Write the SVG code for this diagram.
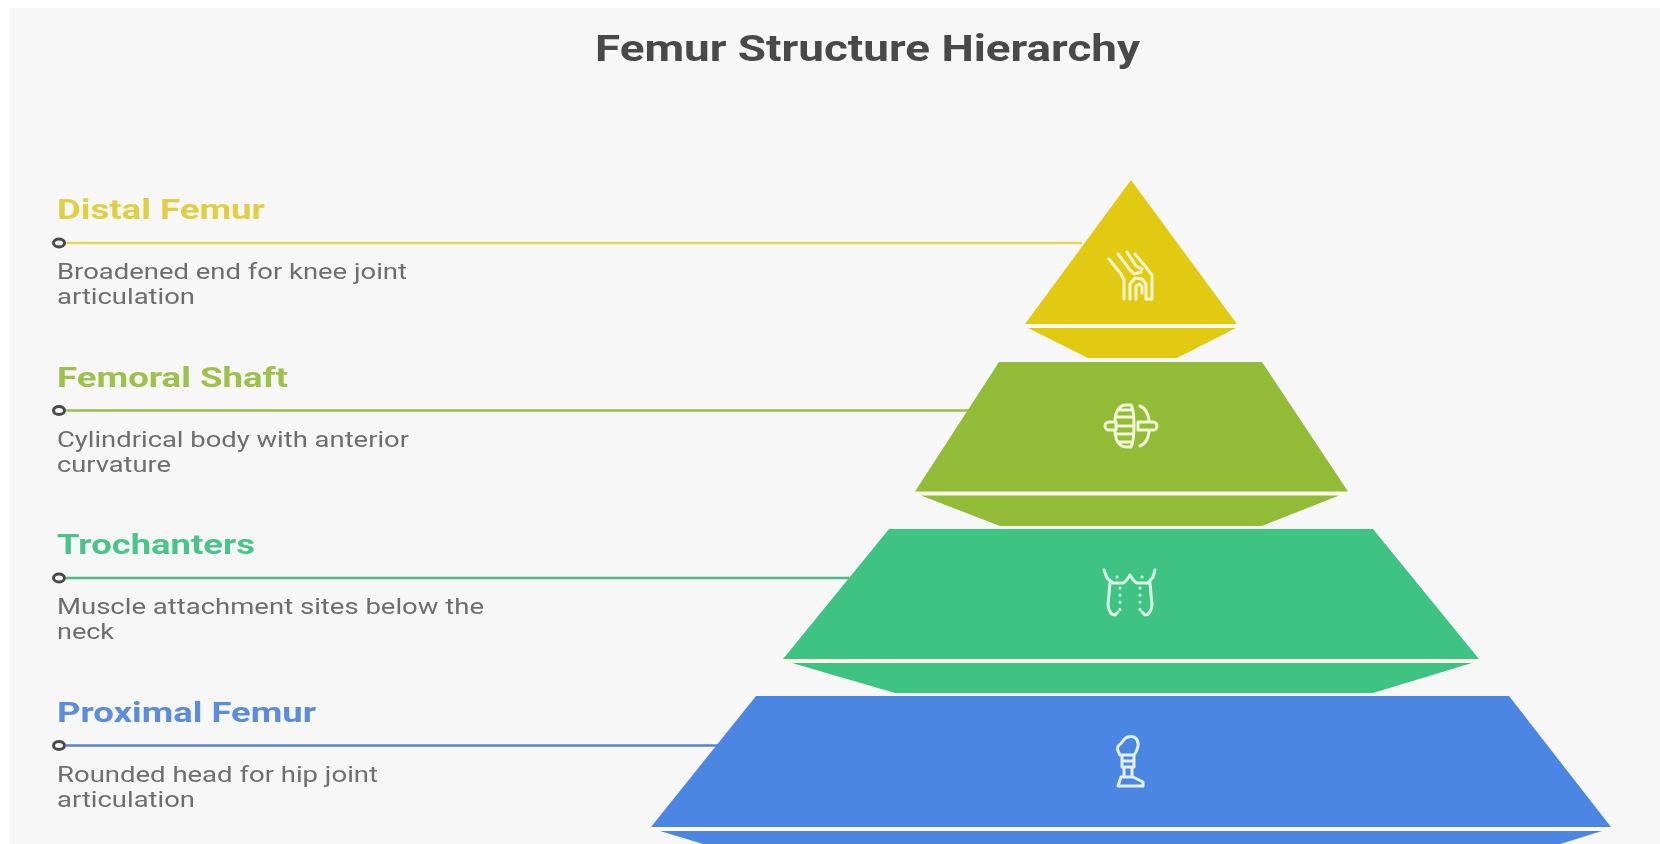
<svg xmlns="http://www.w3.org/2000/svg" width="1660" height="844" viewBox="0 0 1660 844">
<defs>
<filter id="soft" x="-10%" y="-30%" width="120%" height="160%"><feGaussianBlur stdDeviation="0.5"/></filter>
</defs>
<style>
.title{font:700 37px Roboto,"Liberation Sans",sans-serif;fill:#4a4a4a}
.head{font:700 28px Roboto,"Liberation Sans",sans-serif}
.desc{font:400 22px Roboto,"Liberation Sans",sans-serif;fill:#6e6e6e}
.dot{fill:#f7f7f7;stroke:#4a4a4a;stroke-width:3}
.ic{fill:none;stroke:#fbf6cf;stroke-width:3;stroke-linecap:round;stroke-linejoin:round}
.sep{stroke:#fdfde0;stroke-width:2.500}
</style>
<rect width="1660" height="844" fill="#fff"/>
<rect x="9" y="8" width="1651" height="836" fill="#f7f7f7"/>
<text class="title" x="595" y="61" textLength="545" lengthAdjust="spacingAndGlyphs" filter="url(#soft)">Femur Structure Hierarchy</text>
<g id="connectors" fill="none" stroke-width="2.500">
<path d="M66 243H1082" stroke="#e6d655"/>
<path d="M66 410.500H969" stroke="#9bbf4a"/>
<path d="M66 578H849" stroke="#4fb98a"/>
<path d="M66 745.500H717" stroke="#5b82c4"/>
</g>
<g id="distal-femur">
<polygon points="1131,180 1237,324 1025,324" fill="#e2ca12"/>
<polygon points="1028,328 1236,328 1177,358 1088,358" fill="#e2ca12"/>
<path class="sep" d="M1025 326.500H1237"/>
<path class="ic" filter="url(#soft)" transform="translate(0 2)" d="M1109 257L1121 272L1124 278V297M1118 252L1130 268L1134 272L1141 270M1127 250L1136 264L1142 267M1135 252L1145 264L1152 273V297H1146M1130 297V282L1135 276L1142 277L1146 282V297M1136 297V284L1140 282L1142 285V291"/>
<ellipse class="dot" cx="59" cy="243" rx="5.500" ry="4"/>
<text class="head" x="57" y="219" textLength="208" lengthAdjust="spacingAndGlyphs" fill="#e0cf45" filter="url(#soft)">Distal Femur</text>
<text class="desc" x="57" y="279" textLength="350" lengthAdjust="spacingAndGlyphs" filter="url(#soft)">Broadened end for knee joint</text>
<text class="desc" x="57" y="304" textLength="138" lengthAdjust="spacingAndGlyphs" filter="url(#soft)">articulation</text>
</g>
<g id="femoral-shaft">
<polygon points="999,362 1262,362 1348,491.500 915,491.500" fill="#92bb38"/>
<polygon points="921,495.500 1339,495.500 1262,526 1000,526" fill="#92bb38"/>
<path class="sep" d="M915 493.500H1348"/>
<path class="ic" filter="url(#soft)" style="stroke:#f2f8d8" d="M1105 426a4 4 0 0 1 4-4h7v8h-7a4 4 0 0 1-4-4zM1138 422h15a4 4 0 0 1 0 8h-15zM1131 405H1126C1119 405 1115 412 1115 422M1115 430C1115 440 1119 447 1126 447H1131C1135 440 1135 410 1131 405M1140 406C1145 408 1148 413 1149 420M1149 432C1148 440 1145 444 1140 446M1118 410H1132M1116 417H1133M1118 426H1134M1116 434H1133M1118 442H1132"/>
<ellipse class="dot" cx="59" cy="410.500" rx="5.500" ry="4"/>
<text class="head" x="57" y="386.500" textLength="231" lengthAdjust="spacingAndGlyphs" fill="#9cc24c" filter="url(#soft)">Femoral Shaft</text>
<text class="desc" x="57" y="446.500" textLength="352" lengthAdjust="spacingAndGlyphs" filter="url(#soft)">Cylindrical body with anterior</text>
<text class="desc" x="57" y="471.500" textLength="114" lengthAdjust="spacingAndGlyphs" filter="url(#soft)">curvature</text>
</g>
<g id="trochanters">
<polygon points="889,529 1373,529 1479,659 783,659" fill="#3fc383"/>
<polygon points="792,663 1472,663 1373,693 895,693" fill="#3fc383"/>
<path class="sep" d="M783 661H1479"/>
<path class="ic" filter="url(#soft)" style="stroke:#dcf7e9" d="M1104 570L1107 578L1113 583H1123C1126 582 1128 578 1130 575C1132 578 1134 582 1137 583H1148L1153 577L1155 570M1110 583L1108 605C1109 612 1112 615 1115 615L1118 612M1150 583L1152 605C1151 612 1148 615 1145 615L1142 612"/>
<path class="ic" filter="url(#soft)" style="stroke:#dcf7e9;stroke-dasharray:.1 7" d="M1120 588V610M1140 588V610M1117 577H1118M1142 577H1143"/>
<ellipse class="dot" cx="59" cy="578" rx="5.500" ry="4"/>
<text class="head" x="57" y="554" textLength="198" lengthAdjust="spacingAndGlyphs" fill="#4cc48c" filter="url(#soft)">Trochanters</text>
<text class="desc" x="57" y="614" textLength="427" lengthAdjust="spacingAndGlyphs" filter="url(#soft)">Muscle attachment sites below the</text>
<text class="desc" x="57" y="639" textLength="57" lengthAdjust="spacingAndGlyphs" filter="url(#soft)">neck</text>
</g>
<g id="proximal-femur">
<polygon points="756,696 1509,696 1611,827 651,827" fill="#4c86e3"/>
<polygon points="660,831 1602,831 1509,860 756,860" fill="#4c86e3"/>
<path class="sep" d="M651 829H1611"/>
<path class="ic" filter="url(#soft)" style="stroke:#e4f0fd" d="M1128 737C1134 735 1139 739 1138 746C1137 750 1136 753 1134 755H1120C1118 751 1116 748 1119 745C1123 743 1123 738 1128 737ZM1122 755V767H1134V755M1123 761H1133M1124 767V777H1132V767M1121 777H1133L1143 782V786H1118Z"/>
<ellipse class="dot" cx="59" cy="745.500" rx="5.500" ry="4"/>
<text class="head" x="57" y="721.500" textLength="259" lengthAdjust="spacingAndGlyphs" fill="#5b8cdb" filter="url(#soft)">Proximal Femur</text>
<text class="desc" x="57" y="781.500" textLength="321" lengthAdjust="spacingAndGlyphs" filter="url(#soft)">Rounded head for hip joint</text>
<text class="desc" x="57" y="806.500" textLength="138" lengthAdjust="spacingAndGlyphs" filter="url(#soft)">articulation</text>
</g>
</svg>
